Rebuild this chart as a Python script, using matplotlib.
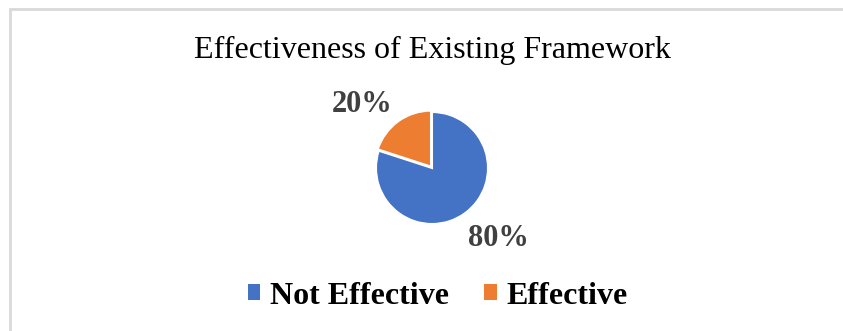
import matplotlib.pyplot as plt
from matplotlib.patches import Rectangle, Patch

title = "Effectiveness of Existing Framework"
labels = ["Not Effective", "Effective"]
values = [80, 20]
colors = ["#4472C4", "#ED7D31"]

plt.rcParams["font.family"] = ["Liberation Serif", "DejaVu Serif"]

W, H = 843, 331
fig = plt.figure(figsize=(W / 100, H / 100), dpi=100)

# chart frame (light grey, top and left edges visible)
fig.patches.append(Rectangle((9.5 / W, -0.05), 1.2, (H - 8.5) / H + 0.05,
                             transform=fig.transFigure, fill=False,
                             edgecolor="#D9D9D9", linewidth=2))

fig.text(432 / W, 1 - 50 / H, title, ha="center", va="center",
         fontsize=23, color="#000000")

# pie axes: center (432,168), radius ~56 px
r = 56
ax = fig.add_axes([(432 - r) / W, 1 - (168 + r) / H, 2 * r / W, 2 * r / H])
wedges, _ = ax.pie(values, colors=colors, startangle=90, counterclock=False,
                   explode=[0, 0.03],
                   wedgeprops=dict(edgecolor="white", linewidth=1.5))
ax.set_xlim(-1, 1)
ax.set_ylim(-1, 1)
ax.set_aspect("auto")
ax.axis("off")

# percentage labels
pct = [f"{v}%" for v in values]
fig.text(498 / W, 1 - 239 / H, pct[0], ha="center", va="center",
         fontsize=22, fontweight="bold", color="#404040")
fig.text(362 / W, 1 - 104 / H, pct[1], ha="center", va="center",
         fontsize=22, fontweight="bold", color="#404040")

handles = [Patch(facecolor=c, edgecolor="none") for c in colors]
fig.legend(handles, labels, loc="center", bbox_to_anchor=(438 / W, 1 - 296 / H),
           ncol=2, frameon=False, prop=dict(size=23, weight="bold"),
           handlelength=0.38, handleheight=0.38, handletextpad=0.31,
           columnspacing=1.1, borderpad=0)

fig.savefig("out.png", dpi=100)
